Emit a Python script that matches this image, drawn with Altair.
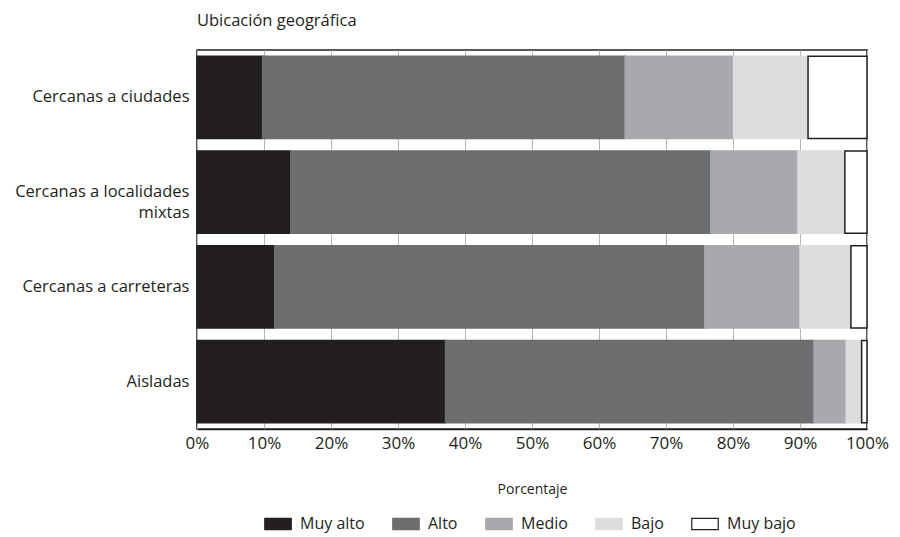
import altair as alt
import pandas as pd

categories = ["Cercanas a ciudades", "Cercanas a localidades mixtas", "Cercanas a carreteras", "Aisladas"]
levels = ["Muy alto", "Alto", "Medio", "Bajo", "Muy bajo"]
muy_alto = [9.8, 14.0, 11.6, 37.1]
alto = [54.1, 62.7, 64.2, 55.0]
medio = [16.2, 13.0, 14.2, 4.8]
bajo = [11.1, 7.0, 7.6, 2.3]
muy_bajo = [8.8, 3.3, 2.4, 0.8]
fill_colors = ["#231f20", "#6d6e70", "#a7a9ac", "#dcdddf", "#ffffff"]
stroke_colors = ["#231f20", "#6d6e70", "#a7a9ac", "#dcdddf", "#231f20"]

series = [muy_alto, alto, medio, bajo, muy_bajo]
rows = []
for li, (lev, vals) in enumerate(zip(levels, series)):
    for cat, v in zip(categories, vals):
        rows.append({"cat": cat, "nivel": lev, "valor": v / 100.0, "orden": li})
df = pd.DataFrame(rows)

FONT = "Open Sans"
INK = "#231f20"

chart = alt.Chart(df).mark_bar(strokeWidth=1.5).encode(
    y=alt.Y("cat:N", sort=categories,
            scale=alt.Scale(paddingInner=0.13, paddingOuter=0.065),
            axis=alt.Axis(title=None, ticks=False, domain=False, labelPadding=8,
                          labelFontSize=16.5, labelColor=INK, labelFont=FONT, labelLineHeight=21,
                          labelExpr="datum.value == 'Cercanas a localidades mixtas' ? ['Cercanas a localidades', 'mixtas'] : datum.value")),
    x=alt.X("valor:Q", stack="zero",
            scale=alt.Scale(domain=[0, 1], nice=False),
            axis=alt.Axis(title="Porcentaje", format=".0%", values=[i / 10 for i in range(11)],
                          ticks=False, labelPadding=6, labelFontSize=17, labelColor=INK,
                          labelFont=FONT, titleFont=FONT, titleFontSize=14,
                          titleFontWeight="normal", titleColor=INK, titlePadding=31,
                          grid=True, gridColor="#b5b6b8", gridWidth=1,
                          domainColor=INK, domainWidth=1.5, labelFlush=False)),
    fill=alt.Fill("nivel:N", sort=levels,
                  scale=alt.Scale(domain=levels, range=fill_colors),
                  legend=alt.Legend(title=None, orient="none", direction="horizontal",
                                    legendX=67, legendY=460,
                                    symbolType="M-1,-0.42H1V0.42H-1Z", symbolSize=700,
                                    symbolStrokeWidth=1.2, labelFontSize=16, labelFont=FONT,
                                    labelColor=INK, columnPadding=25, labelOffset=8)),
    stroke=alt.Stroke("nivel:N", sort=levels,
                      scale=alt.Scale(domain=levels, range=stroke_colors)),
    order=alt.Order("orden:Q"),
).properties(
    width=670, height=379,
    autosize=alt.AutoSizeParams(type="none"),
    padding={"left": 189, "top": 42, "right": 25, "bottom": 108},
    title=alt.TitleParams("Ubicación geográfica", anchor="start", frame="group",
                          offset=21, fontSize=16.5, font=FONT, fontWeight="normal", color=INK),
).configure_view(stroke=INK, strokeWidth=1.5)

chart.save("out.html", embed_options={"renderer": "svg", "actions": False})
